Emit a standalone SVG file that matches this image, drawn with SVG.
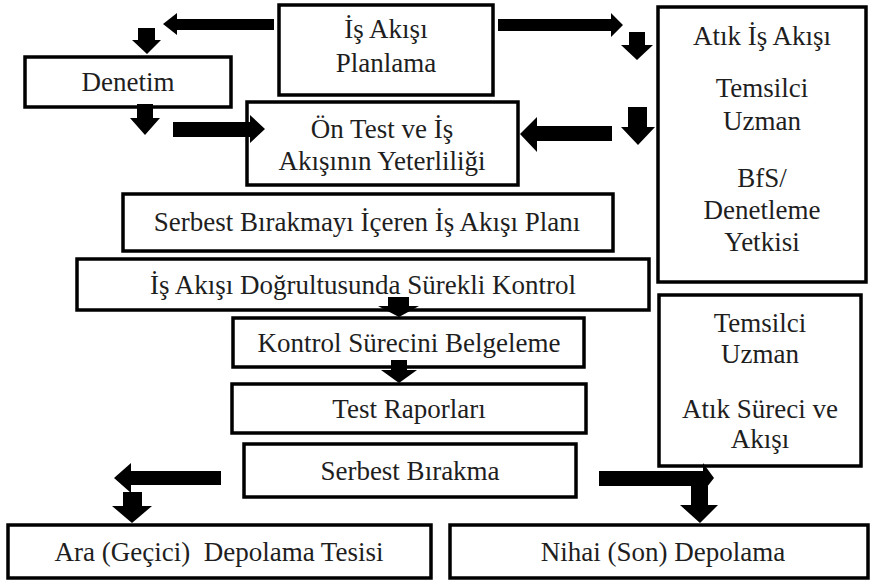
<svg xmlns="http://www.w3.org/2000/svg" width="871" height="580" viewBox="0 0 871 580">
<style>
.box{fill:#fff;stroke:#000;stroke-width:3.5}
.t{font-family:"Liberation Serif","Times New Roman",serif;font-size:27px;fill:#1e1e1e;text-anchor:middle}
.ar{fill:#000;stroke:none}
</style>
<rect width="871" height="580" fill="#fff"/>
<g id="n-planlama"><rect class="box" x="279" y="5" width="214" height="90"/>
<text class="t" x="386" y="38">İş Akışı</text><text class="t" x="386" y="72">Planlama</text></g>
<g id="n-denetim"><rect class="box" x="25" y="57" width="206" height="50"/>
<text class="t" x="128" y="91">Denetim</text></g>
<g id="n-ontest"><rect class="box" x="247" y="102" width="271" height="83"/>
<text class="t" x="382" y="138">Ön Test ve İş</text><text class="t" x="382" y="170">Akışının Yeterliliği</text></g>
<g id="n-atik"><rect class="box" x="658" y="7" width="208" height="275"/>
<text class="t" x="762" y="45">Atık İş Akışı</text>
<text class="t" x="762" y="97">Temsilci</text><text class="t" x="762" y="130">Uzman</text>
<text class="t" x="762" y="187">BfS/</text><text class="t" x="762" y="219">Denetleme</text><text class="t" x="762" y="251">Yetkisi</text></g>
<g id="n-plan"><rect class="box" x="123" y="194" width="490" height="57"/>
<text class="t" x="367" y="231">Serbest Bırakmayı İçeren İş Akışı Planı</text></g>
<g id="n-kontrol"><rect class="box" x="77" y="259" width="572" height="51"/>
<text class="t" x="363" y="294">İş Akışı Doğrultusunda Sürekli Kontrol</text></g>
<g id="n-belge"><rect class="box" x="233" y="318" width="351" height="49"/>
<text class="t" x="409" y="352">Kontrol Sürecini Belgeleme</text></g>
<g id="n-uzman2"><rect class="box" x="659" y="295" width="202" height="171"/>
<text class="t" x="760" y="332">Temsilci</text><text class="t" x="760" y="363">Uzman</text>
<text class="t" x="760" y="418">Atık Süreci ve</text><text class="t" x="760" y="448">Akışı</text></g>
<g id="n-rapor"><rect class="box" x="232" y="384" width="354" height="49"/>
<text class="t" x="409" y="418">Test Raporları</text></g>
<g id="n-serbest"><rect class="box" x="244" y="444" width="332" height="53"/>
<text class="t" x="410" y="480">Serbest Bırakma</text></g>
<g id="n-ara"><rect class="box" x="8" y="525" width="423" height="53"/>
<text class="t" x="219" y="561" xml:space="preserve">Ara (Geçici)  Depolama Tesisi</text></g>
<g id="n-nihai"><rect class="box" x="450" y="525" width="418" height="53"/>
<text class="t" x="663" y="561">Nihai (Son) Depolama</text></g>
<g id="connectors">
<polygon class="ar" points="274,19 177,19 177,13 163,24 177,35 177,30 274,30"/>
<polygon class="ar" points="138,28 155,28 155,40 161,40 147,54 132,40 138,40"/>
<polygon class="ar" points="137,104 153,104 153,118 160,118 145,135 130,118 137,118"/>
<polygon class="ar" points="173,122 250,122 250,115 265,129 250,143 250,137 173,137"/>
<polygon class="ar" points="498,19 611,19 611,13 623,25 611,37 611,31 498,31"/>
<polygon class="ar" points="629,32 645,32 645,45 653,45 637,60 621,45 629,45"/>
<polygon class="ar" points="612,126 537,126 537,117 520,134 537,152 537,141 612,141"/>
<polygon class="ar" points="628,107 647,107 647,127 655,127 638,145 621,127 628,127"/>
<polygon class="ar" points="388,297 409,297 409,306 419,306 399,317 378,306 388,306"/>
<polygon class="ar" points="391,360 407,360 407,370 417,370 399,383 381,370 391,370"/>
<polygon class="ar" points="221,471 131,471 131,463 114,478 131,493 131,485 221,485"/>
<polygon class="ar" points="123,492 142,492 142,506 152,506 132,523 112,506 123,506"/>
<polygon class="ar" points="599,471 703,471 703,463 714,478 703,492 703,486 599,486"/>
<polygon class="ar" points="691,486 708,486 708,505 718,505 700,523 680,505 691,505"/>
</g>
</svg>
